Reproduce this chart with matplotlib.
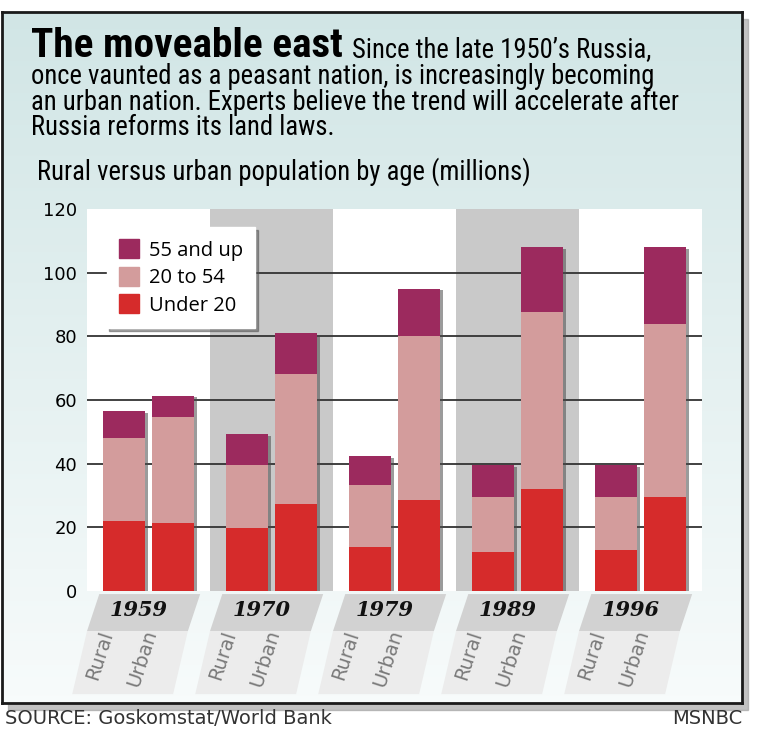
"""
The moveable east: rural vs urban population of Russia by age group
"""
import warnings
import logging
import numpy as np
import matplotlib
matplotlib.use("Agg")
import matplotlib.pyplot as plt
import matplotlib.transforms as mtransforms
from matplotlib.patches import Patch, Polygon, Rectangle

warnings.filterwarnings("ignore")
logging.getLogger("matplotlib.font_manager").setLevel(logging.ERROR)

# ── data (millions) ─────────────────────────────────────────────
years = ["1959", "1970", "1979", "1989", "1996"]
areas = ["Rural", "Urban"]
under20_rural = [22.0, 19.8, 13.9, 12.2, 12.8]
under20_urban = [21.4, 27.4, 28.7, 32.1, 29.6]
mid_rural = [26.2, 19.9, 19.5, 17.4, 16.8]     # 20 to 54
mid_urban = [33.4, 40.9, 51.3, 55.5, 54.3]
old_rural = [8.2, 9.7, 9.1, 10.1, 10.1]        # 55 and up
old_urban = [6.6, 12.7, 15.0, 20.4, 24.1]

series_labels = ["Under 20", "20 to 54", "55 and up"]
colors = ["#d62b2b", "#d39c9c", "#9c2a5e"]

NARROW = ["Roboto Condensed", "PT Sans Narrow", "Fira Sans Condensed",
          "Open Sans Condensed", "Archivo Narrow", "Liberation Sans Narrow",
          "DejaVu Sans"]
W, H = 760, 737


def fpos(x, y):
    """pixel coords (top-left origin) -> figure fraction"""
    return x / W, 1 - y / H


fig = plt.figure(figsize=(W / 100, H / 100), dpi=100)
fig.patch.set_facecolor("white")
renderer = fig.canvas.get_renderer()


def fit_text(x, y, s, width, **kw):
    """place text and scale its size so it spans `width` pixels"""
    t = fig.text(*fpos(x, y), s, fontsize=18, va="baseline", zorder=3, **kw)
    w = t.get_window_extent(renderer).width
    t.set_fontsize(18 * width / w)
    return t


# ── outer frame with teal gradient ─────────────────────────────
fig.patches.append(Rectangle(fpos(8, 710), 740 / W, 691 / H,
                             transform=fig.transFigure, color="#9a9a9a",
                             alpha=0.6, zorder=-2))
bg = fig.add_axes([2 / W, 1 - 703 / H, 740 / W, 691 / H], zorder=0)
grad = np.linspace(0, 1, 256).reshape(-1, 1)
top_c = np.array([0.82, 0.90, 0.90])
bot_c = np.array([0.97, 0.985, 0.985])
img = top_c + (bot_c - top_c) * grad[:, :, None]
bg.imshow(img, aspect="auto", extent=[0, 1, 0, 1])
bg.set_xticks([])
bg.set_yticks([])
for s in bg.spines.values():
    s.set_color("#1a1a1a")
    s.set_linewidth(2)

# ── heading texts ───────────────────────────────────────────────
title = fit_text(31, 57, "The moveable east", 311, fontweight="bold",
                 family=NARROW)
probe = fit_text(31, 110,
                 "an urban nation. Experts believe the trend will accelerate after",
                 650, family=NARROW)
bsize = probe.get_fontsize()
probe.remove()
bb = title.get_window_extent(renderer)
fig.text((bb.x1 + 9) / W, 1 - 57 / H, "Since the late 1950\u2019s Russia,",
         fontsize=bsize, family=NARROW, va="baseline", zorder=3)

body_lines = ["once vaunted as a peasant nation, is increasingly becoming",
              "an urban nation. Experts believe the trend will accelerate after",
              "Russia reforms its land laws."]
one = fig.text(0, 0, "Rp", fontsize=bsize, family=NARROW)
h1 = one.get_window_extent(renderer).height
one.remove()
body = fig.text(*fpos(31, 135), "\n".join(body_lines), fontsize=bsize,
                family=NARROW, va="baseline", zorder=3, linespacing=1.2)
h3 = body.get_window_extent(renderer).height
pitch = (h3 - h1) / 2
body.set_linespacing(1.2 * 24 / pitch)

fig.text(*fpos(37, 180), "Rural versus urban population by age (millions)",
         fontsize=bsize, family=NARROW, va="baseline", zorder=3)

# ── main chart ──────────────────────────────────────────────────
ax = fig.add_axes([87 / W, 1 - 591 / H, 615 / W, 382 / H], zorder=2)
ax.set_facecolor("white")
x = np.arange(len(years))
off, bw = 0.2, 0.34

for g in (1, 3):
    ax.axvspan(g - 0.5, g + 0.5, color="#c9c9c9", zorder=0, lw=0)
for v in range(20, 101, 20):
    ax.axhline(v, color="#333333", lw=1.3, zorder=1)

rural = [under20_rural, mid_rural, old_rural]
urban = [under20_urban, mid_urban, old_urban]
for sign, stack in ((-1, rural), (1, urban)):
    xs = x + sign * off
    total = np.sum(stack, axis=0)
    ax.bar(xs + 0.022, total - 0.6, width=bw, color="#4a4a4a", alpha=0.55,
           zorder=2, lw=0)
    bottom = np.zeros(len(years))
    for vals, c in zip(stack, colors):
        ax.bar(xs, vals, width=bw, bottom=bottom, color=c, zorder=3, lw=0)
        bottom += np.array(vals)

ax.set_xlim(-0.5, len(years) - 0.5)
ax.set_ylim(0, 120)
ax.set_yticks(range(0, 121, 20))
ax.set_xticks([])
ax.tick_params(axis="y", length=0, pad=7, labelsize=13)
for s in ax.spines.values():
    s.set_visible(False)

handles = [Patch(color=c) for c in colors[::-1]]
leg = ax.legend(handles, series_labels[::-1], loc="upper left",
                bbox_to_anchor=(0.032, 0.953), borderaxespad=0,
                frameon=True, fancybox=False,
                shadow=True, facecolor="white", edgecolor="white",
                prop={"family": "Open Sans", "size": 14.5},
                handlelength=1.0, handleheight=1.1, handletextpad=0.5,
                labelspacing=0.3, borderpad=0.6)
leg.get_frame().set_alpha(1)
leg.set_zorder(5)

# ── x labels with slanted bands ────────────────────────────────
trans = mtransforms.blended_transform_factory(ax.transData, ax.transAxes)
for g, yr in zip(x, years):
    band = Polygon([(g - 0.40, -0.008), (g + 0.42, -0.008),
                    (g + 0.32, -0.105), (g - 0.50, -0.105)],
                   closed=True, transform=trans, clip_on=False,
                   color="#d2d2d2", lw=0, zorder=1)
    ax.add_patch(band)
    band2 = Polygon([(g - 0.50, -0.105), (g + 0.32, -0.105),
                     (g + 0.20, -0.27), (g - 0.62, -0.27)],
                    closed=True, transform=trans, clip_on=False,
                    color="#ececec", lw=0, zorder=1)
    ax.add_patch(band2)
    ax.text(g - 0.08, -0.05, yr, transform=trans, ha="center", va="center",
            fontsize=15, fontweight="bold", fontstyle="italic",
            family="DejaVu Serif", color="#111111", clip_on=False)
    ax.text(g - 0.40, -0.168, areas[0], transform=trans, ha="center",
            va="center", rotation=72, fontsize=14, color="#7a7a7a",
            clip_on=False)
    ax.text(g - 0.05, -0.175, areas[1], transform=trans, ha="center",
            va="center", rotation=72, fontsize=14, color="#7a7a7a",
            clip_on=False)

# ── footer ──────────────────────────────────────────────────────
fig.text(*fpos(5, 719), "SOURCE: Goskomstat/World Bank", fontsize=14,
         color="#333333", va="center")
fig.text(*fpos(742, 719), "MSNBC", fontsize=14, color="#333333",
         va="center", ha="right")

plt.savefig("out.png", dpi=100)
